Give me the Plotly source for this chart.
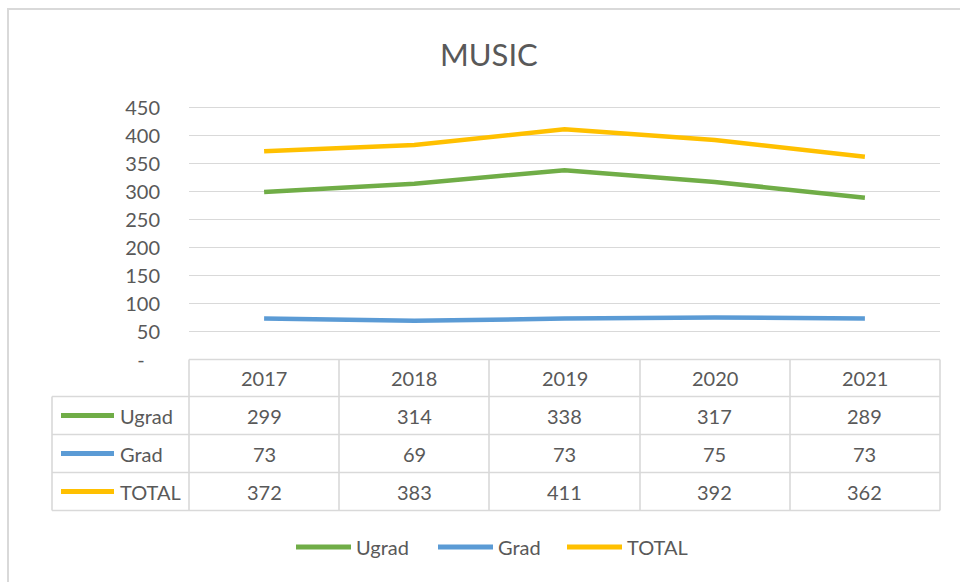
import plotly.graph_objects as go

# ---- data ----
years = ["2017", "2018", "2019", "2020", "2021"]
ugrad = [299, 314, 338, 317, 289]
grad = [73, 69, 73, 75, 73]
total = [372, 383, 411, 392, 362]
series_names = ["Ugrad", "Grad", "TOTAL"]
series_values = [ugrad, grad, total]
series_colors = ["#70AD47", "#5B9BD5", "#FFC000"]
y_ticks = [0, 50, 100, 150, 200, 250, 300, 350, 400, 450]
y_ticktext = ["-\u00a0\u00a0\u00a0", "50", "100", "150", "200", "250", "300", "350", "400", "450"]
title_text = "MUSIC"

W, H = 960, 582
FONT = "Lato, 'Open Sans', sans-serif"
TXT = "#595959"
GRID = "#D9D9D9"


def X(px):
    return px / W


def Y(py):
    return 1 - py / H


fig = go.Figure()
xs = list(range(len(years)))
for name, vals, col in zip(series_names, series_values, series_colors):
    fig.add_trace(go.Scatter(x=xs, y=vals, mode="lines", name=name,
                             line=dict(color=col, width=4.5), showlegend=False,
                             hoverinfo="skip"))

# plot area geometry (pixels)
left, right = 189, 940
y0_px, y450_px = 359.5, 107.5
ppu = (y0_px - y450_px) / 450.0
ymax = 458
top_px = y0_px - ymax * ppu

shapes = []
annotations = []

# chart area border (extends past right/bottom edges)
shapes.append(dict(type="rect", xref="paper", yref="paper", x0=X(8), x1=X(980),
                   y0=Y(9), y1=Y(600), line=dict(color=GRID, width=2), layer="below"))

# data table geometry
row_edges = [359.5, 396.5, 434.5, 472.5, 510.5]
col_edges = [189, 339, 489, 640, 790, 940]
tbl_left = 52
lw = 1.6
shapes.append(dict(type="line", xref="paper", yref="paper", x0=X(left), x1=X(right),
                   y0=Y(row_edges[0]), y1=Y(row_edges[0]), line=dict(color=GRID, width=lw)))
for r in row_edges[1:]:
    shapes.append(dict(type="line", xref="paper", yref="paper", x0=X(tbl_left), x1=X(right),
                       y0=Y(r), y1=Y(r), line=dict(color=GRID, width=lw)))
for c in col_edges:
    shapes.append(dict(type="line", xref="paper", yref="paper", x0=X(c), x1=X(c),
                       y0=Y(row_edges[0]), y1=Y(row_edges[-1]), line=dict(color=GRID, width=lw)))
shapes.append(dict(type="line", xref="paper", yref="paper", x0=X(tbl_left), x1=X(tbl_left),
                   y0=Y(row_edges[1]), y1=Y(row_edges[-1]), line=dict(color=GRID, width=lw)))

# header years
hdr_c = (row_edges[0] + row_edges[1]) / 2
for i, yr in enumerate(years):
    annotations.append(dict(x=i, xref="x", y=Y(hdr_c), yref="paper", text=yr,
                            showarrow=False, xanchor="center", yanchor="middle",
                            font=dict(family=FONT, size=20, color=TXT)))

# rows
for ri, (name, vals, col) in enumerate(zip(series_names, series_values, series_colors)):
    cy = (row_edges[ri + 1] + row_edges[ri + 2]) / 2
    shapes.append(dict(type="line", xref="paper", yref="paper", x0=X(61), x1=X(114),
                       y0=Y(cy), y1=Y(cy), line=dict(color=col, width=5)))
    annotations.append(dict(x=X(118), xref="paper", y=Y(cy), yref="paper", text=name,
                            showarrow=False, xanchor="left", yanchor="middle",
                            font=dict(family=FONT, size=20, color=TXT)))
    for i, v in enumerate(vals):
        annotations.append(dict(x=i, xref="x", y=Y(cy), yref="paper", text=str(v),
                                showarrow=False, xanchor="center", yanchor="middle",
                                font=dict(family=FONT, size=20, color=TXT)))

# custom legend
leg_y = 547
leg_swatch = [(296, 351), (438, 493), (567, 622)]
for (a, b), name, col in zip(leg_swatch, series_names, series_colors):
    shapes.append(dict(type="line", xref="paper", yref="paper", x0=X(a), x1=X(b),
                       y0=Y(leg_y), y1=Y(leg_y), line=dict(color=col, width=5)))
    annotations.append(dict(x=X(b + 3), xref="paper", y=Y(leg_y), yref="paper", text=name,
                            showarrow=False, xanchor="left", yanchor="middle",
                            font=dict(family=FONT, size=20, color=TXT)))

# title
annotations.append(dict(x=X(489), xref="paper", y=Y(54), yref="paper", text=title_text,
                        showarrow=False, xanchor="center", yanchor="middle",
                        font=dict(family=FONT, size=31, color=TXT)))

fig.update_layout(
    width=W, height=H, autosize=False,
    margin=dict(l=0, r=0, t=0, b=0, pad=0, autoexpand=False),
    paper_bgcolor="white", plot_bgcolor="white",
    showlegend=False,
    shapes=shapes, annotations=annotations,
    xaxis=dict(domain=[X(left), X(right)], range=[-0.5, 4.5], showgrid=False,
               showticklabels=False, zeroline=False, showline=False, fixedrange=True,
               automargin=False),
    yaxis=dict(domain=[Y(y0_px), Y(top_px)], range=[0, ymax], tickvals=y_ticks,
               ticktext=y_ticktext, showgrid=True, gridcolor=GRID, gridwidth=1.6,
               zeroline=False, showline=False, ticks="outside", ticklen=24,
               tickcolor="rgba(0,0,0,0)", tickfont=dict(family=FONT, size=20, color=TXT),
               fixedrange=True, automargin=False),
)

post = (
    "var gd=document.getElementById('{plot_id}');"
    "gd.style.position='fixed';gd.style.top='0px';gd.style.left='0px';"
    "document.body.style.margin='0';"
    "document.documentElement.style.overflow='hidden';"
    "document.body.style.overflow='hidden';"
)
fig.write_html("out.html", config={"displayModeBar": False, "staticPlot": True},
               post_script=post)
